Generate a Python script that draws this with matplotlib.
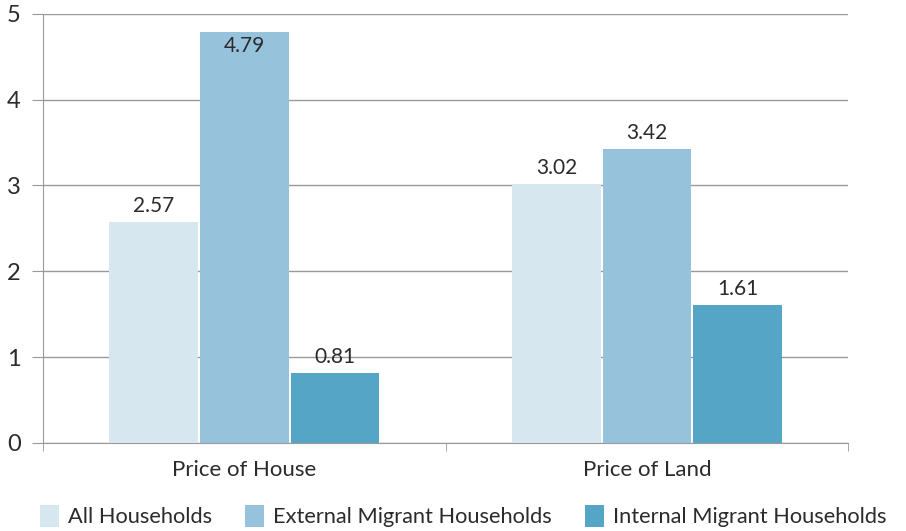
import numpy as np
import matplotlib.pyplot as plt

categories = ["Price of House", "Price of Land"]
series_names = ["All Households", "External Migrant Households", "Internal Migrant Households"]
all_hh = [2.57, 3.02]
external_hh = [4.79, 3.42]
internal_hh = [0.81, 1.61]
yticks = [0, 1, 2, 3, 4, 5]

colors = ["#D6E7F0", "#96C3DB", "#55A5C6"]
text_color = "#2b2b2b"

plt.rcParams['font.family'] = ['Lato', 'DejaVu Sans']

fig = plt.figure(figsize=(9.06, 5.31), dpi=100)
ax = fig.add_axes([0.0475, 0.166, 0.889, 0.808])

x = np.arange(len(categories))
width = 0.22
offsets = [-0.225, 0, 0.225]

for vals, name, col, off in zip([all_hh, external_hh, internal_hh], series_names, colors, offsets):
    bars = ax.bar(x + off, vals, width, color=col, label=name, zorder=3)
    for b, v in zip(bars, vals):
        cx = b.get_x() + b.get_width() / 2
        if v > 4.5:
            ax.text(cx, v - 0.05, f"{v:.2f}", ha="center", va="top",
                    fontsize=15, color=text_color, zorder=4)
        else:
            ax.text(cx, v + 0.07, f"{v:.2f}", ha="center", va="bottom",
                    fontsize=15, color=text_color, zorder=4)

ax.set_xlim(-0.5, 1.5)
ax.set_ylim(0, 5)
ax.set_yticks(yticks)
ax.set_yticklabels([str(t) for t in yticks], fontsize=17, color=text_color)
ax.set_xticks(x)
ax.set_xticklabels(categories, fontsize=16, color=text_color)
ax.tick_params(axis="x", length=0, pad=12)
ax.tick_params(axis="y", length=8, color="#999999", pad=8)
# boundary ticks between categories
ax.set_xticks([-0.5, 0.5, 1.5], minor=True)
ax.tick_params(axis="x", which="minor", length=6, color="#999999")

ax.yaxis.grid(True, color="#999999", linewidth=1, zorder=0)
for s in ["top", "right"]:
    ax.spines[s].set_visible(False)
ax.spines["left"].set_color("#999999")
ax.spines["bottom"].set_color("#999999")

fig.legend(loc="lower left", bbox_to_anchor=(0.022, -0.03), ncol=3, frameon=False,
           fontsize=15.7, handlelength=0.9, handleheight=1.2, handletextpad=0.4,
           columnspacing=1.5, labelcolor=text_color)

fig.savefig("out.png", dpi=100)
